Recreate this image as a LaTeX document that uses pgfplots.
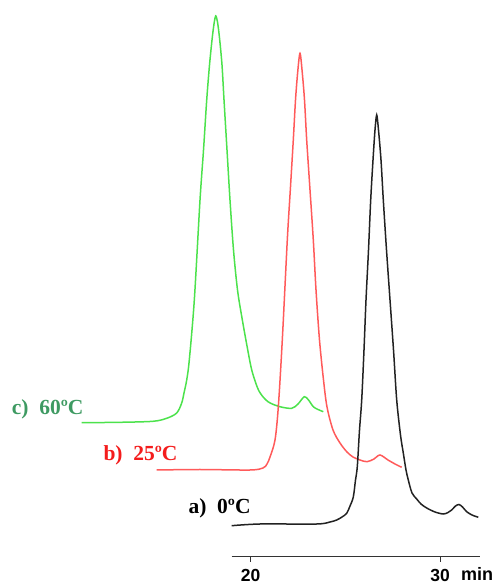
\documentclass[border=0pt]{standalone}
\usepackage{fontspec}
\setmainfont{Liberation Serif}
\newfontfamily\axfont{Liberation Sans}
\usepackage{pgfplots}
\pgfplotsset{compat=1.18}
\definecolor{linegreen}{HTML}{4CE24C}
\definecolor{labgreen}{HTML}{3E9A62}
\definecolor{linered}{HTML}{FF5A5A}
\definecolor{labred}{HTML}{F41C1C}
\definecolor{lineblack}{HTML}{222222}

\pgfplotstableread{
t y
11.072 161.3
13.096 161.7
14.839 162.7
15.563 165.7
16.091 171
16.355 181
16.476 191
16.619 204
16.756 224
17.021 284
17.322 384
17.507 434
17.676 484
17.824 519
17.956 544
18.061 560
18.151 568
18.246 562
18.352 546
18.484 519
18.590 484
18.748 434
18.906 384
19.091 334
19.303 294
19.540 266
19.805 238
20.069 213
20.438 193
20.914 182.3
21.548 177.3
22.166 175.7
22.499 180
22.832 187.3
23.053 184
23.307 177.3
23.555 174.5
23.835 172.3
}\curveC

\pgfplotstableread{
t y
15.034 114
17.322 114.5
19.963 114
20.650 116
20.861 120
21.020 127
21.284 144
21.458 177
21.669 244
21.933 344
22.092 394
22.250 444
22.367 484
22.483 512
22.604 530.7
22.721 512
22.842 484
22.958 444
23.133 394
23.307 344
23.450 294
23.634 244
23.846 204
24.031 177
24.348 154
24.717 141
25.087 132
25.404 127
25.774 124
26.144 122.3
26.513 125
26.830 129
27.253 124
27.623 120
27.977 116.7
}\curveB

\pgfplotstableread{
t y
18.996 58.3
20.491 60
23.487 60
24.189 62
24.543 64
24.823 67
25.071 70.7
25.246 78
25.420 87
25.536 104
25.631 117.3
25.748 154
25.864 184
25.985 234
26.091 284
26.223 334
26.339 384
26.461 424
26.566 454
26.656 469
26.751 454
26.883 424
27.005 384
27.174 334
27.359 284
27.544 234
27.713 184
27.913 149
28.061 131
28.204 114
28.325 104
28.521 91
28.769 85
28.996 80
29.297 76
29.736 72
30.174 70
30.423 71.5
30.618 74
30.819 78
31.004 79.5
31.189 77
31.410 72.3
31.690 69
32.023 66.7
}\curveA

\begin{document}
\begin{tikzpicture}
\begin{axis}[at={(0pt,0pt)}, anchor=south west, scale only axis,
  width=498pt, height=584pt,
  xmin=6.756, xmax=33.064, ymin=0, ymax=584,
  axis x line=bottom, axis y line=none,
  axis x line shift=-27.3pt,
  x axis line style={-, line width=1pt, color=black!80, shorten <=231.7pt, shorten >=18pt},
  xtick={20,30}, tick align=outside, major tick length=5pt,
  tick style={line width=1pt, black!80},
  /pgf/number format/assume math mode=true,
  xticklabel style={font=\axfont\bfseries\fontsize{17.5}{17.5}\selectfont, inner sep=0pt, anchor=north, yshift=-7pt},
  clip=false]
\addplot[linegreen, line width=1.5pt, smooth] table[x=t,y=y] {\curveC};
\addplot[linered, line width=1.5pt, smooth] table[x=t,y=y] {\curveB};
\addplot[lineblack, line width=1.5pt, smooth] table[x=t,y=y] {\curveA};
\end{axis}
\node[anchor=base west, inner sep=0pt, text=labgreen, font=\bfseries\fontsize{21.5}{21.5}\selectfont] at (11.7pt,169.7pt) {c)\ \ 60ºC};
\node[anchor=base west, inner sep=0pt, text=labred, font=\bfseries\fontsize{21.5}{21.5}\selectfont] at (103.3pt,123pt) {b)\ \ 25ºC};
\node[anchor=base west, inner sep=0pt, text=black, font=\bfseries\fontsize{21.5}{21.5}\selectfont] at (188.3pt,70.7pt) {a)\ \ 0ºC};
\node[anchor=base west, inner sep=0pt, text=black, font=\axfont\bfseries\fontsize{18}{18}\selectfont] at (461pt,3.5pt) {min};
\pgfresetboundingbox
\path (0pt,0pt) rectangle (498pt,584pt);
\end{tikzpicture}
\end{document}
